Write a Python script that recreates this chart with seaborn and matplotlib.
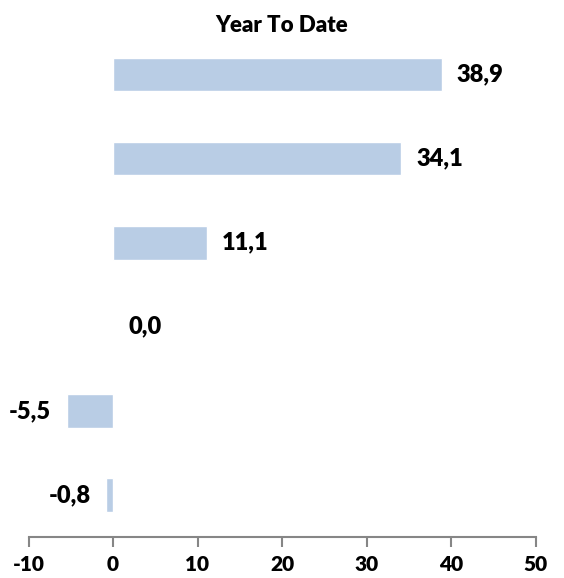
import matplotlib.pyplot as plt
import pandas as pd
import seaborn as sns

CATEGORIES = ["Item 1", "Item 2", "Item 3", "Item 4", "Item 5", "Item 6"]
YTD_VALUES = [38.9, 34.1, 11.1, 0.0, -5.5, -0.8]
X_TICKS = [-10, 0, 10, 20, 30, 40, 50]

BAR_COLOR = "#B9CDE5"
AXIS_COLOR = "#868686"


def comma_decimal(value: float) -> str:
    return f"{value:.1f}".replace(".", ",")


def main() -> None:
    sns.set_style("white")
    plt.rcParams["font.family"] = ["Lato", "DejaVu Sans"]
    plt.rcParams["axes.unicode_minus"] = False
    plt.rcParams["text.color"] = "black"
    plt.rcParams["xtick.color"] = "black"

    df = pd.DataFrame({"category": CATEGORIES, "ytd": YTD_VALUES})

    fig = plt.figure(figsize=(5.64, 5.78), dpi=100)
    ax = fig.add_axes([28.5 / 564, 41 / 578, 507 / 564, 504.5 / 578])

    sns.barplot(
        data=df,
        x="ytd",
        y="category",
        order=CATEGORIES,
        orient="h",
        color=BAR_COLOR,
        saturation=1,
        width=0.4,
        ax=ax,
    )

    ax.bar_label(
        ax.containers[0],
        labels=[comma_decimal(v) for v in YTD_VALUES],
        padding=11,
        fontsize=17,
        fontweight="heavy",
        color="black",
    )

    ax.set_xlim(-10, 50)
    ax.set_ylim(5.5, -0.5)
    ax.set_xticks(X_TICKS)
    ax.set_xticklabels([str(t) for t in X_TICKS], fontsize=15, fontweight="heavy")
    ax.set_yticks([])
    ax.set_xlabel("")
    ax.set_ylabel("")
    ax.set_title("Year To Date", fontsize=16, fontweight="heavy", pad=0, color="black")

    for side in ["top", "right", "left"]:
        ax.spines[side].set_visible(False)
    ax.spines["bottom"].set_color(AXIS_COLOR)
    ax.spines["bottom"].set_linewidth(1.5)
    ax.tick_params(
        axis="x",
        direction="out",
        length=7,
        width=1.5,
        color=AXIS_COLOR,
        labelcolor="black",
        bottom=True,
        pad=6,
    )

    fig.savefig("out.png", dpi=100)
    plt.close(fig)


if __name__ == "__main__":
    main()
